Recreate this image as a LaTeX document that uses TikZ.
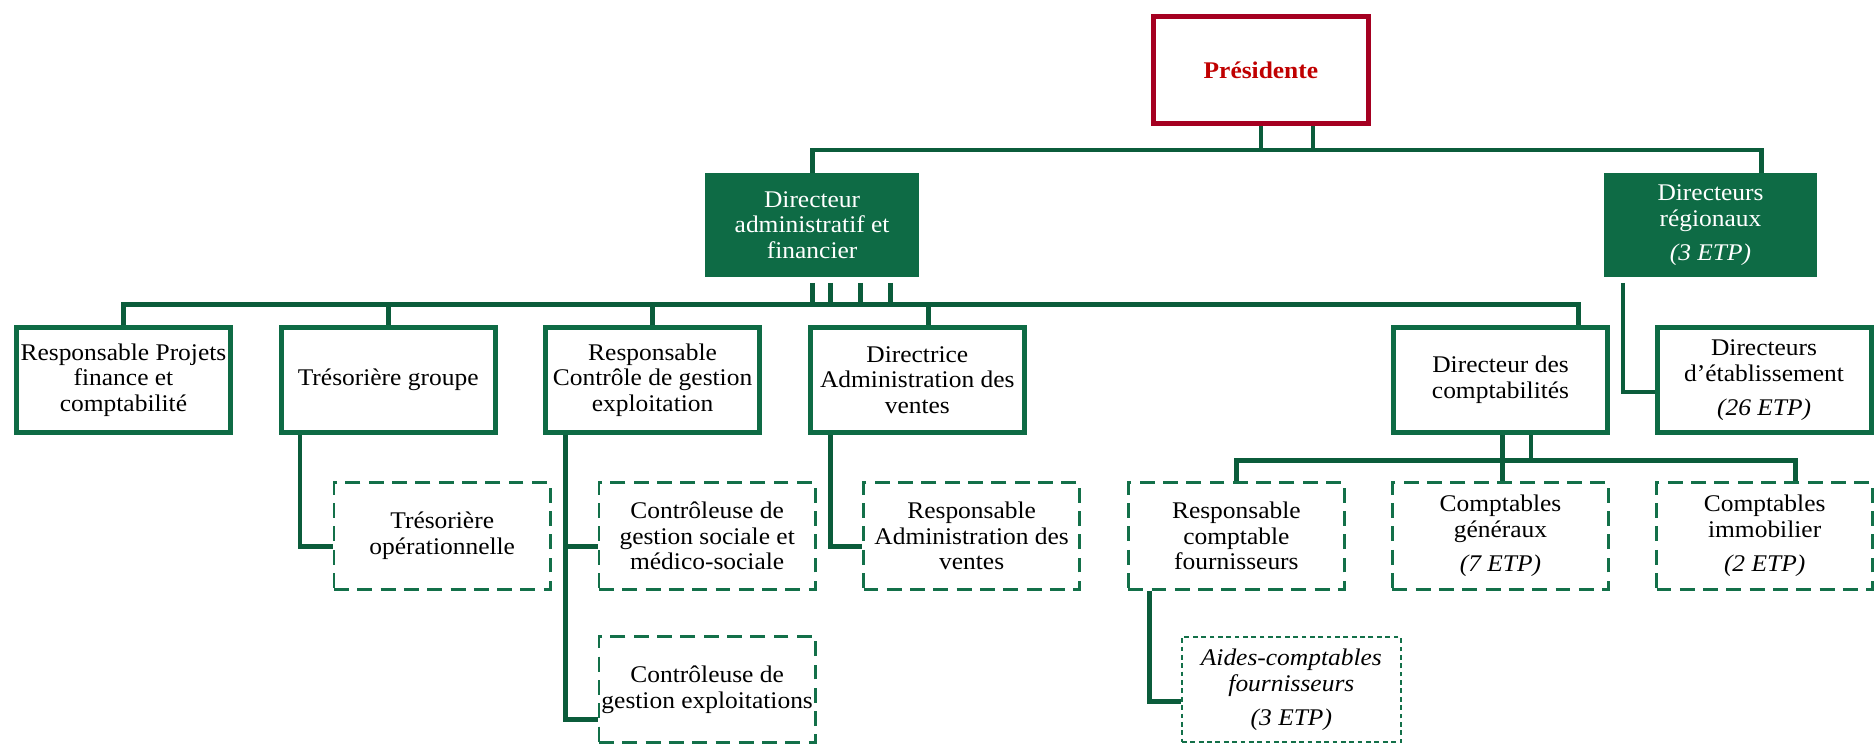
\documentclass[tikz,border=0pt]{standalone}
\usepackage{fontspec}
\setmainfont{Liberation Serif}[FakeStretch=1.065]
\definecolor{fillgreen}{HTML}{0E6B45}
\definecolor{boxgreen}{HTML}{0E6B45}
\definecolor{linegreen}{HTML}{0B5C3B}
\definecolor{dashgreen}{HTML}{137049}
\definecolor{presred}{HTML}{A50021}
\definecolor{presredtext}{HTML}{C00000}
\newcommand{\orgfont}{\fontsize{20}{21.5}\selectfont}
\tikzset{
  base/.style={inner sep=0pt, align=center, font=\orgfont},
  presbox/.style={base, draw=presred, line width=4pt, fill=white, minimum width=180pt, minimum height=90pt, font=\orgfont\bfseries, text=presredtext},
  fillbox/.style={base, fill=fillgreen, text=white, minimum width=178.5pt, minimum height=86.5pt},
  solidbox/.style={base, draw=boxgreen, line width=4.2pt, fill=white, minimum width=179pt, minimum height=88pt},
  dashbox/.style={base, draw=dashgreen, line width=2.4pt, dash pattern=on 12.5pt off 7pt, fill=white, minimum width=181pt, minimum height=89pt},
  finedashbox/.style={base, draw=dashgreen, line width=2pt, dash pattern=on 4pt off 3pt, fill=white, minimum width=183pt, minimum height=88pt},
  conn/.style={draw=linegreen, line width=4pt}
}
\begin{document}
\begin{tikzpicture}[x=1pt, y=-1pt]
\useasboundingbox (0,0) rectangle (1568,623);
% nodes
\node[presbox] (pres) at (1055,58.6) {Présidente};
\node[fillbox] (daf) at (679.5,188.2) {Directeur\\administratif et\\financier};
\node[fillbox] (dreg) at (1431.2,188.2) {Directeurs\\régionaux\\[7pt]\textit{(3 ETP)}};

\node[solidbox] (rpf) at (103.3,318) {Responsable Projets\\finance et\\comptabilité};
\node[solidbox] (tg) at (324.8,318) {Trésorière groupe};
\node[solidbox] (rcg) at (546,318) {Responsable\\Contrôle de gestion\\exploitation};
\node[solidbox] (dav) at (767.5,318) {Directrice\\Administration des\\ventes};
\node[solidbox] (ddc) at (1255.5,318) {Directeur des\\comptabilités};
\node[solidbox] (dde) at (1476,318) {Directeurs\\d’établissement\\[7pt]\textit{(26 ETP)}};

\node[dashbox] (to) at (370,448.5) {Trésorière\\opérationnelle};
\node[dashbox] (cgs) at (591.7,448.5) {Contrôleuse de\\gestion sociale et\\médico-sociale};
\node[dashbox] (rav) at (813,448.5) {Responsable\\Administration des\\ventes};
\node[dashbox] (rcf) at (1034.5,448.5) {Responsable\\comptable\\fournisseurs};
\node[dashbox] (cg) at (1255.5,448.5) {Comptables\\généraux\\[7pt]\textit{(7 ETP)}};
\node[dashbox] (ci) at (1476.5,448.5) {Comptables\\immobilier\\[7pt]\textit{(2 ETP)}};

\node[dashbox] (cge) at (591.7,577) {Contrôleuse de\\gestion exploitations};
\node[finedashbox] (acf) at (1080.5,577) {\textit{Aides-comptables}\\\textit{fournisseurs}\\[7pt]\textit{(3 ETP)}};

% bus coordinates
\coordinate (bus1) at (0,125.5);
\coordinate (bus2) at (0,255);
\coordinate (bus3) at (0,385.5);

% president level
\coordinate (p2) at ([xshift=43.5pt]pres.south);
\coordinate (dregT) at ([xshift=42.8pt]dreg.north);
\draw[conn] (pres.south) -- (pres.south |- bus1);
\draw[conn] (p2) -- (p2 |- bus1);
\draw[conn] (daf.north) -- (daf.north |- bus1) -- (dregT |- bus1) -- (dregT);

% DAF level
\coordinate (d1) at ([yshift=-5pt]daf.south);
\coordinate (d2) at ([xshift=15.5pt,yshift=-5pt]daf.south);
\coordinate (d3) at ([xshift=40.5pt,yshift=-5pt]daf.south);
\coordinate (d4) at ([xshift=65.5pt,yshift=-5pt]daf.south);
\draw[conn] (d1) -- (d1 |- bus2);
\draw[conn] (d2) -- (d2 |- bus2);
\draw[conn] (d3) -- (d3 |- bus2);
\draw[conn] (d4) -- (d4 |- bus2);
\coordinate (ddcT) at ([xshift=65.5pt]ddc.north);
\coordinate (davT) at ([xshift=9.5pt]dav.north);
\draw[conn] (rpf.north) -- (rpf.north |- bus2) -- (ddcT |- bus2) -- (ddcT);
\draw[conn] (tg.north |- bus2) -- (tg.north);
\draw[conn] (rcg.north |- bus2) -- (rcg.north);
\draw[conn] (davT |- bus2) -- (davT);

% directeurs regionaux -> etablissement
\coordinate (dregB) at ([xshift=-73.2pt,yshift=-5pt]dreg.south);
\coordinate (ddeW) at ([yshift=-10pt]dde.west);
\draw[conn] (dregB) |- (ddeW);

% tresoriere
\coordinate (tgB) at ([xshift=-73.8pt]tg.south);
\coordinate (toW) at ([yshift=-9pt]to.west);
\draw[conn] (tgB) |- (toW);

% controle de gestion
\coordinate (rcgB) at ([xshift=-73pt]rcg.south);
\coordinate (cgsW) at ([yshift=-9pt]cgs.west);
\coordinate (cgeW) at ([yshift=-25pt]cge.west);
\draw[conn] (rcgB) |- (cgeW);
\draw[conn] (rcgB |- cgsW) -- (cgsW);

% administration des ventes
\coordinate (davB) at ([xshift=-72.9pt]dav.south);
\coordinate (ravW) at ([yshift=-9pt]rav.west);
\draw[conn] (davB) |- (ravW);

% comptabilites
\coordinate (c1) at ([xshift=1.5pt]ddc.south);
\coordinate (c2) at ([xshift=25.5pt]ddc.south);
\coordinate (ciT) at ([xshift=25.5pt]ci.north);
\draw[conn] (c1) -- (c1 |- cg.north);
\draw[conn] (c2) -- (c2 |- bus3);
\draw[conn] (rcf.north) -- (rcf.north |- bus3) -- (ciT |- bus3) -- (ciT);

% fournisseurs
\coordinate (rcfB) at ([xshift=-72.5pt]rcf.south);
\coordinate (acfW) at ([yshift=-10pt]acf.west);
\draw[conn] (rcfB) |- (acfW);
\end{tikzpicture}
\end{document}
